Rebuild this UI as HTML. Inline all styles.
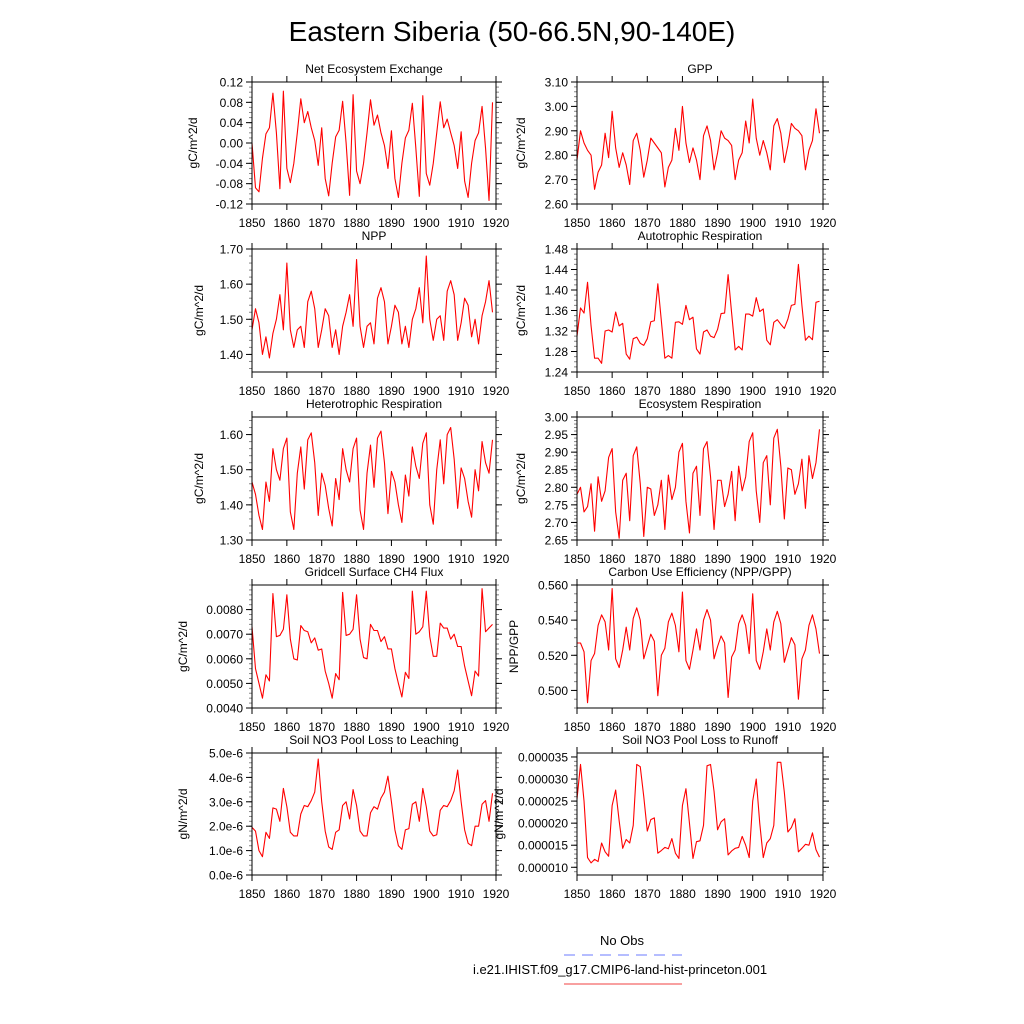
<!DOCTYPE html>
<html><head><meta charset="utf-8">
<style>
html,body{margin:0;padding:0;background:#fff;}
svg{display:block;font-family:"Liberation Sans",Arial,sans-serif;}
</style></head>
<body>
<svg id="fig" width="1024" height="1024" viewBox="0 0 1024 1024" xmlns="http://www.w3.org/2000/svg">
<rect width="1024" height="1024" fill="#fff"/>
<text x="512" y="41" font-size="28" text-anchor="middle" fill="#000">Eastern Siberia (50-66.5N,90-140E)</text>
<g>
<text x="622" y="945" font-size="13" text-anchor="middle">No Obs</text>
<line x1="564" y1="955" x2="682" y2="955" stroke="#6b7bff" stroke-width="1" stroke-dasharray="11,7"/>
<text x="620" y="974" font-size="13" text-anchor="middle">i.e21.IHIST.f09_g17.CMIP6-land-hist-princeton.001</text>
<line x1="564" y1="984" x2="682" y2="984" stroke="#f04040" stroke-width="1"/>
</g>
<g id="panels"></g>
</svg>
<script>
const years = [];
for (let y = 1850; y <= 1919; y++) years.push(y);
const xTickLabels = ["1850","1860","1870","1880","1890","1900","1910","1920"];

const neeValues = [0.00,-0.088,-0.096,-0.03,0.018,0.03,0.098,0.02,-0.09,0.102,-0.05,-0.078,-0.04,0.02,0.087,0.04,0.062,0.03,0.005,-0.044,0.03,-0.07,-0.104,-0.04,0.012,0.025,0.082,0.0,-0.103,0.095,-0.055,-0.08,-0.04,0.02,0.085,0.035,0.055,0.02,-0.005,-0.05,0.024,-0.07,-0.107,-0.04,0.01,0.025,0.078,-0.01,-0.105,0.093,-0.06,-0.083,-0.04,0.02,0.081,0.03,0.047,0.02,-0.005,-0.05,0.022,-0.075,-0.107,-0.04,0.005,0.02,0.072,-0.01,-0.113,0.08];
const gppValues = [2.78,2.90,2.85,2.82,2.80,2.66,2.73,2.76,2.89,2.79,2.98,2.83,2.75,2.81,2.76,2.68,2.86,2.89,2.82,2.71,2.78,2.87,2.85,2.83,2.81,2.67,2.75,2.78,2.91,2.82,3.00,2.85,2.77,2.83,2.78,2.70,2.88,2.92,2.86,2.74,2.81,2.90,2.87,2.86,2.84,2.70,2.78,2.81,2.94,2.85,3.03,2.87,2.80,2.86,2.81,2.74,2.92,2.95,2.89,2.77,2.84,2.93,2.91,2.90,2.88,2.74,2.82,2.86,2.99,2.89];
const nppValues = [1.47,1.53,1.49,1.40,1.45,1.39,1.46,1.50,1.57,1.47,1.66,1.47,1.42,1.47,1.48,1.42,1.55,1.58,1.53,1.42,1.47,1.53,1.51,1.42,1.47,1.40,1.48,1.52,1.57,1.48,1.67,1.48,1.42,1.48,1.49,1.43,1.56,1.59,1.55,1.43,1.48,1.54,1.52,1.43,1.48,1.42,1.50,1.53,1.59,1.49,1.68,1.50,1.44,1.50,1.51,1.44,1.58,1.61,1.57,1.44,1.49,1.56,1.54,1.45,1.50,1.43,1.51,1.55,1.61,1.52];
const arValues = [1.31,1.365,1.355,1.415,1.33,1.267,1.267,1.257,1.32,1.322,1.318,1.357,1.33,1.335,1.275,1.265,1.305,1.308,1.296,1.292,1.305,1.338,1.34,1.412,1.34,1.267,1.272,1.267,1.337,1.338,1.333,1.37,1.342,1.347,1.285,1.275,1.318,1.322,1.31,1.307,1.323,1.354,1.355,1.43,1.355,1.283,1.29,1.283,1.353,1.353,1.349,1.385,1.358,1.363,1.302,1.293,1.337,1.342,1.333,1.325,1.343,1.37,1.372,1.45,1.37,1.302,1.31,1.303,1.376,1.378];
const hrValues = [1.465,1.43,1.37,1.33,1.465,1.41,1.56,1.50,1.47,1.56,1.59,1.38,1.33,1.49,1.565,1.445,1.585,1.605,1.52,1.37,1.49,1.455,1.39,1.34,1.475,1.415,1.56,1.50,1.465,1.56,1.59,1.385,1.33,1.49,1.57,1.45,1.59,1.61,1.52,1.375,1.495,1.465,1.40,1.35,1.485,1.425,1.565,1.51,1.475,1.575,1.605,1.40,1.345,1.50,1.585,1.46,1.60,1.62,1.53,1.39,1.505,1.475,1.41,1.365,1.50,1.44,1.58,1.52,1.49,1.585];
const erValues = [2.78,2.80,2.73,2.745,2.81,2.675,2.83,2.76,2.79,2.885,2.91,2.73,2.655,2.82,2.84,2.705,2.89,2.915,2.81,2.66,2.80,2.795,2.72,2.75,2.82,2.68,2.835,2.765,2.80,2.90,2.925,2.76,2.67,2.84,2.86,2.72,2.91,2.93,2.83,2.68,2.82,2.82,2.745,2.78,2.845,2.705,2.86,2.79,2.83,2.93,2.955,2.79,2.70,2.87,2.89,2.75,2.94,2.965,2.86,2.71,2.855,2.85,2.78,2.81,2.88,2.74,2.89,2.825,2.87,2.965];
const ch4Values = [0.0073,0.0056,0.0050,0.0044,0.00535,0.0051,0.00865,0.0069,0.00695,0.0072,0.0086,0.0068,0.0060,0.00595,0.00735,0.00715,0.0071,0.00665,0.00685,0.00635,0.0064,0.0055,0.0050,0.0044,0.0054,0.00515,0.0087,0.00695,0.0070,0.0072,0.0086,0.0068,0.00605,0.0060,0.0074,0.00715,0.00715,0.0067,0.0069,0.0064,0.0064,0.0056,0.0050,0.00445,0.00545,0.0052,0.00875,0.0070,0.0071,0.0073,0.00875,0.0069,0.0061,0.0061,0.00745,0.00725,0.00725,0.0068,0.0070,0.0065,0.0065,0.0057,0.0051,0.0045,0.0055,0.0053,0.00885,0.0071,0.00725,0.0074];
const cueValues = [0.527,0.527,0.522,0.493,0.517,0.521,0.537,0.543,0.539,0.523,0.558,0.518,0.513,0.523,0.536,0.523,0.541,0.547,0.540,0.518,0.525,0.532,0.528,0.497,0.520,0.524,0.539,0.544,0.537,0.522,0.556,0.517,0.512,0.523,0.535,0.523,0.540,0.546,0.540,0.518,0.525,0.531,0.527,0.496,0.519,0.523,0.538,0.543,0.537,0.521,0.555,0.517,0.512,0.522,0.535,0.523,0.539,0.545,0.538,0.516,0.523,0.530,0.526,0.495,0.518,0.523,0.537,0.543,0.535,0.521];
const leachValues = [1.95e-6,1.8e-6,1.0e-6,0.75e-6,1.75e-6,1.5e-6,2.75e-6,2.7e-6,2.2e-6,3.55e-6,2.8e-6,1.75e-6,1.6e-6,1.6e-6,2.5e-6,2.85e-6,2.8e-6,3.05e-6,3.4e-6,4.75e-6,3.0e-6,1.8e-6,1.15e-6,1.05e-6,1.75e-6,1.85e-6,2.85e-6,3.0e-6,2.3e-6,3.5e-6,2.85e-6,1.8e-6,1.6e-6,1.6e-6,2.55e-6,2.8e-6,2.7e-6,3.15e-6,3.4e-6,4.05e-6,3.0e-6,1.85e-6,1.2e-6,1.05e-6,1.85e-6,1.9e-6,2.9e-6,3.0e-6,2.2e-6,3.55e-6,2.8e-6,1.8e-6,1.6e-6,1.65e-6,2.65e-6,2.85e-6,2.8e-6,3.05e-6,3.45e-6,4.3e-6,3.0e-6,1.85e-6,1.3e-6,1.2e-6,2.0e-6,2.0e-6,2.9e-6,3.05e-6,2.2e-6,3.35e-6];
const runoffValues = [25.5e-6,33.3e-6,25e-6,12.2e-6,11e-6,11.8e-6,11.3e-6,15.5e-6,13.5e-6,12.5e-6,24e-6,27.5e-6,20.5e-6,14.3e-6,16.3e-6,15.5e-6,19.5e-6,33.3e-6,32.8e-6,26e-6,18.2e-6,20.8e-6,21.2e-6,13.2e-6,13.8e-6,14.5e-6,14.2e-6,16.5e-6,13.2e-6,12e-6,24e-6,27.8e-6,20e-6,12e-6,15.8e-6,16e-6,19.5e-6,33e-6,33.3e-6,27.2e-6,18.5e-6,20.3e-6,21e-6,12.8e-6,13.7e-6,14.3e-6,14.5e-6,17e-6,15e-6,12.2e-6,25e-6,30e-6,20e-6,12.2e-6,15.5e-6,16.5e-6,19.5e-6,33.8e-6,33.8e-6,27e-6,18e-6,19e-6,21e-6,13.5e-6,14.3e-6,15.2e-6,15e-6,17.8e-6,14e-6,12.3e-6];

const neeTicks = ["-0.12","-0.08","-0.04","0.00","0.04","0.08","0.12"];
const gppTicks = ["2.60","2.70","2.80","2.90","3.00","3.10"];
const nppTicks = ["1.40","1.50","1.60","1.70"];
const arTicks = ["1.24","1.28","1.32","1.36","1.40","1.44","1.48"];
const hrTicks = ["1.30","1.40","1.50","1.60"];
const erTicks = ["2.65","2.70","2.75","2.80","2.85","2.90","2.95","3.00"];
const ch4Ticks = ["0.0040","0.0050","0.0060","0.0070","0.0080"];
const cueTicks = ["0.500","0.520","0.540","0.560"];
const leachTicks = ["0.0e-6","1.0e-6","2.0e-6","3.0e-6","4.0e-6","5.0e-6"];
const leachTickValues = [0,1e-6,2e-6,3e-6,4e-6,5e-6];
const runoffTicks = ["0.000010","0.000015","0.000020","0.000025","0.000030","0.000035"];

const L = [252, 496], R = [577, 823];
const rows = [[82,204],[249,372],[417,540],[585,708],[753,875]];
const panels = [
 {name:"nee", title:"Net Ecosystem Exchange", ylab:"gC/m^2/d", data:neeValues, ticks:neeTicks, tv:neeTicks.map(Number), ymin:-0.12, ymax:0.12, minor:0.01, col:L, row:rows[0], labx:197},
 {name:"gpp", title:"GPP", ylab:"gC/m^2/d", data:gppValues, ticks:gppTicks, tv:gppTicks.map(Number), ymin:2.60, ymax:3.10, minor:0.02, col:R, row:rows[0], labx:525},
 {name:"npp", title:"NPP", ylab:"gC/m^2/d", data:nppValues, ticks:nppTicks, tv:nppTicks.map(Number), ymin:1.35, ymax:1.70, minor:0.02, col:L, row:rows[1], labx:203},
 {name:"ar", title:"Autotrophic Respiration", ylab:"gC/m^2/d", data:arValues, ticks:arTicks, tv:arTicks.map(Number), ymin:1.24, ymax:1.48, minor:0.01, col:R, row:rows[1], labx:525},
 {name:"hr", title:"Heterotrophic Respiration", ylab:"gC/m^2/d", data:hrValues, ticks:hrTicks, tv:hrTicks.map(Number), ymin:1.30, ymax:1.65, minor:0.02, col:L, row:rows[2], labx:203},
 {name:"er", title:"Ecosystem Respiration", ylab:"gC/m^2/d", data:erValues, ticks:erTicks, tv:erTicks.map(Number), ymin:2.65, ymax:3.00, minor:0.01, col:R, row:rows[2], labx:525},
 {name:"ch4", title:"Gridcell Surface CH4 Flux", ylab:"gC/m^2/d", data:ch4Values, ticks:ch4Ticks, tv:ch4Ticks.map(Number), ymin:0.004, ymax:0.009, minor:0.0002, col:L, row:rows[3], labx:187},
 {name:"cue", title:"Carbon Use Efficiency (NPP/GPP)", ylab:"NPP/GPP", data:cueValues, ticks:cueTicks, tv:cueTicks.map(Number), ymin:0.49, ymax:0.56, minor:0.005, col:R, row:rows[3], labx:518},
 {name:"leaching", title:"Soil NO3 Pool Loss to Leaching", ylab:"gN/m^2/d", data:leachValues, ticks:leachTicks, tv:leachTickValues, ymin:0, ymax:5e-6, minor:2e-7, col:L, row:rows[4], labx:187},
 {name:"runoff", title:"Soil NO3 Pool Loss to Runoff", ylab:"gN/m^2/d", data:runoffValues, ticks:runoffTicks, tv:runoffTicks.map(Number), ymin:8.25e-6, ymax:35.9e-6, minor:1e-6, col:R, row:rows[4], labx:503}
];

const NS = "http://www.w3.org/2000/svg";
const root = document.getElementById("panels");
function mk(tag, attrs, parent) {
  const e = document.createElementNS(NS, tag);
  for (const k in attrs) e.setAttribute(k, attrs[k]);
  parent.appendChild(e);
  return e;
}
panels.forEach(p => {
  const [x0, x1] = p.col, [y0, y1] = p.row;
  const xs = yr => x0 + (yr - 1850) / 70 * (x1 - x0);
  const ys = v => y1 - (v - p.ymin) / (p.ymax - p.ymin) * (y1 - y0);
  const g = mk("g", {}, root);
  
  
  const t = mk("text", {x:(x0+x1)/2, y:y0-9, "font-size":12, "text-anchor":"middle"}, g);
  t.textContent = p.title;
  
  
  const yl = mk("text", {x:0, y:0, "font-size":12, "text-anchor":"middle", transform:`translate(${p.labx},${(y0+y1)/2}) rotate(-90)`}, g);
  yl.textContent = p.ylab;
  
  
  // minor y ticks
  const nMin = Math.ceil(p.ymin / p.minor - 1e-6), nMax = Math.floor(p.ymax / p.minor + 1e-6);
  for (let i = nMin; i <= nMax; i++) {
    const yy = ys(i * p.minor);
    const m1 = mk("line", {x1:x0-3, x2:x0, y1:yy, y2:yy, stroke:"#888", "stroke-width":1}, g);
    
    
    const m2 = mk("line", {x1:x1, x2:x1+3, y1:yy, y2:yy, stroke:"#888", "stroke-width":1}, g);
    
    
  }
  // major y ticks
  p.tv.forEach((v, i) => {
    const yy = ys(v);
    const a = mk("line", {x1:x0-6, x2:x0, y1:yy, y2:yy, stroke:"#000", "stroke-width":1}, g);
    
    
    const b = mk("line", {x1:x1, x2:x1+6, y1:yy, y2:yy, stroke:"#000", "stroke-width":1}, g);
    
    
    const tl = mk("text", {x:x0-9, y:yy+4.5, "font-size":12, "text-anchor":"end"}, g);
    tl.textContent = p.ticks[i];
    
    
  });
  // x ticks
  xTickLabels.forEach(lab => {
    const xx = xs(Number(lab));
    const a = mk("line", {x1:xx, x2:xx, y1:y1, y2:y1+6, stroke:"#000", "stroke-width":1}, g);
    
    
    const b = mk("line", {x1:xx, x2:xx, y1:y0-6, y2:y0, stroke:"#000", "stroke-width":1}, g);
    
    
    const tl = mk("text", {x:xx, y:y1+23, "font-size":12, "text-anchor":"middle"}, g);
    tl.textContent = lab;
    
    
  });
  // series
  const pts = p.data.map((v, i) => xs(years[i]).toFixed(2) + "," + ys(v).toFixed(2)).join(" ");
  const line = mk("polyline", {points:pts, fill:"none", stroke:"#ff0000", "stroke-width":1.1, "stroke-linejoin":"round"}, g);
  
  
  const fr = mk("rect", {x:x0, y:y0, width:x1-x0, height:y1-y0, fill:"none", stroke:"#000", "stroke-width":1}, g);
  
  
});
</script>
</body></html>
